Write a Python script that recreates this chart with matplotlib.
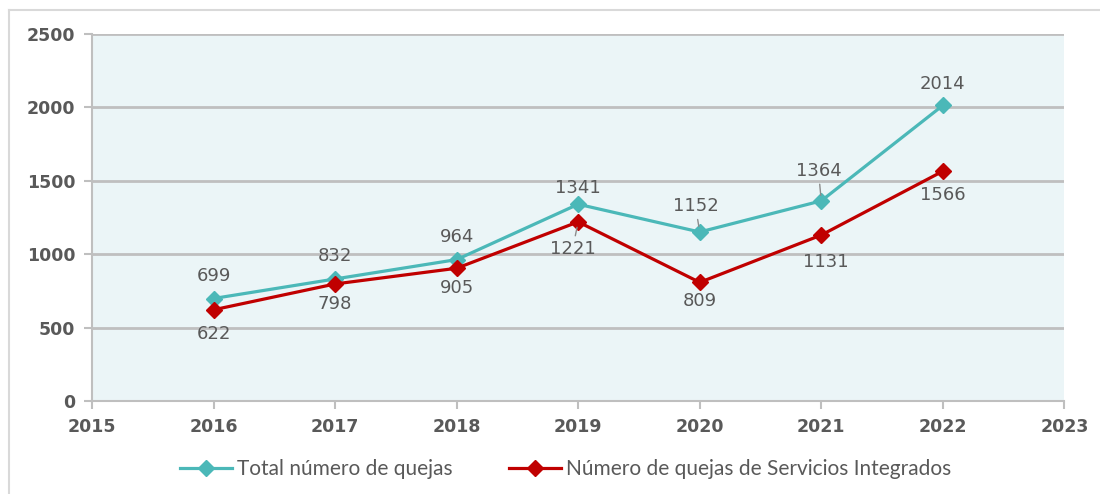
import matplotlib
matplotlib.use('Agg')
import matplotlib.pyplot as plt
from matplotlib.lines import Line2D

# ---------------------------------------------------------------------------
# Data
# ---------------------------------------------------------------------------
years = [2016, 2017, 2018, 2019, 2020, 2021, 2022]
total_quejas = [699, 832, 964, 1341, 1152, 1364, 2014]
quejas_servicios = [622, 798, 905, 1221, 809, 1131, 1566]

label_total = 'Total número de quejas'
label_serv = 'Número de quejas de Servicios Integrados'

# label offsets in points (dx, dy) and whether a leader line is drawn
total_offsets = [(0, 10), (0, 10), (0, 10), (0, 5), (-3, 12), (-2, 15), (0, 9)]
total_leader = [False, False, False, False, True, True, False]
serv_offsets = [(0, -11), (0, -8), (0, -7.5), (-4, -13), (0, -7), (3, -13), (0, -11)]
serv_leader = [False, False, False, True, False, False, False]

TEAL = '#4BB8B8'
RED = '#C00000'
GREY_TXT = '#595959'
GRID = '#BFBFBF'

fig = plt.figure(figsize=(11, 4.94), dpi=100)
ax = fig.add_axes([0.0836, 0.188, 0.884, 0.743])
ax.set_facecolor('#EBF5F7')

# outer chart frame (top and left edges visible in the reference)
fig.add_artist(Line2D([0.008, 1.0], [0.979, 0.979], color='#D9D9D9', lw=1.5))
fig.add_artist(Line2D([0.008, 0.008], [0.0, 0.979], color='#D9D9D9', lw=1.5))

ax.plot(years, total_quejas, color=TEAL, lw=2.3, marker='D', ms=8,
        label=label_total, zorder=3)
ax.plot(years, quejas_servicios, color=RED, lw=2.3, marker='D', ms=8,
        label=label_serv, zorder=3)


def add_labels(xs, ys, offsets, leaders):
    for x, y, (dx, dy), lead in zip(xs, ys, offsets, leaders):
        va = 'bottom' if dy > 0 else 'top'
        props = None
        if lead:
            props = dict(arrowstyle='-', color='#8C8C8C', lw=1,
                         shrinkA=1, shrinkB=4)
        ax.annotate(str(y), (x, y), xytext=(dx, dy), textcoords='offset points',
                    ha='center', va=va, fontsize=13, color=GREY_TXT,
                    arrowprops=props, zorder=4)


add_labels(years, total_quejas, total_offsets, total_leader)
add_labels(years, quejas_servicios, serv_offsets, serv_leader)

ax.set_xlim(2015, 2023)
ax.set_ylim(0, 2500)
ax.set_xticks(range(2015, 2024))
ax.set_yticks(range(0, 2501, 500))
ax.grid(axis='y', color=GRID, lw=2)
ax.set_axisbelow(True)

for side in ('top', 'right'):
    ax.spines[side].set_visible(False)
for side in ('left', 'bottom'):
    ax.spines[side].set_color(GRID)
    ax.spines[side].set_linewidth(1.5)

ax.tick_params(axis='both', colors=GRID, length=6, width=1.5,
               labelcolor=GREY_TXT, labelsize=12.5)
for lbl in ax.get_xticklabels() + ax.get_yticklabels():
    lbl.set_fontweight('bold')
ax.tick_params(axis='x', pad=6)
ax.tick_params(axis='y', pad=6)

leg = ax.legend(loc='center', bbox_to_anchor=(0.487, -0.185), ncol=2,
                frameon=False, handlelength=2.5, columnspacing=2.7,
                handletextpad=0.25, prop={'family': 'Lato', 'size': 15})
for txt in leg.get_texts():
    txt.set_color(GREY_TXT)

fig.savefig('out.png', dpi=100)
